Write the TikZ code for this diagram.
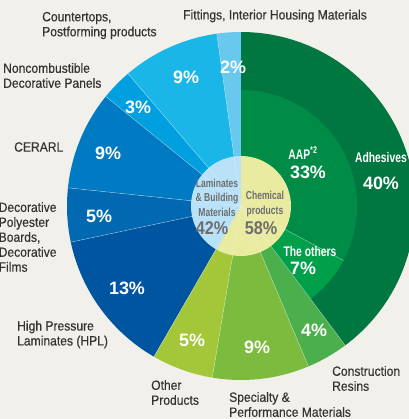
\documentclass[tikz,border=0pt]{standalone}
\usepackage{fontspec}
\setmainfont{Liberation Sans}
\newfontfamily\labelfont[FakeStretch=0.9,FakeBold=0.3]{Liberation Sans}
\newfontfamily\condfont[FakeStretch=0.74]{Liberation Sans}
\newfontfamily\innerfont[FakeStretch=0.88]{Liberation Sans}

\definecolor{bgcol}{HTML}{F1F0EA}
\definecolor{labelgray}{HTML}{333333}
\definecolor{innergray}{HTML}{6E6E70}
\definecolor{adhcol}{HTML}{007640}
\definecolor{aapcol}{HTML}{008C46}
\definecolor{othcol}{HTML}{00A04B}
\definecolor{concol}{HTML}{4BB04B}
\definecolor{specol}{HTML}{7CBB3E}
\definecolor{otpcol}{HTML}{A4C639}
\definecolor{hplcol}{HTML}{0055A0}
\definecolor{deccol}{HTML}{0069B2}
\definecolor{cercol}{HTML}{007BC3}
\definecolor{noncol}{HTML}{009FDF}
\definecolor{coucol}{HTML}{1AB6E8}
\definecolor{fitcol}{HTML}{69C8EE}
\definecolor{lamcol}{HTML}{B9E2F8}
\definecolor{checol}{HTML}{E8EBA0}

\begin{document}
\begin{tikzpicture}[
		x=1bp,y=1bp,
		outer label/.style={anchor=west,inner sep=0pt,align=left,text=labelgray,
			font=\labelfont\fontsize{13.5}{15}\selectfont},
		pct/.style={inner sep=0pt,text=white,font=\bfseries\fontsize{18}{20}\selectfont},
		seg name/.style={inner sep=0pt,text=white,align=center,
			font=\condfont\bfseries\fontsize{14}{16}\selectfont},
		inner name/.style={inner sep=0pt,text=innergray,align=center,
			font=\condfont\bfseries\fontsize{11.6}{14.5}\selectfont},
		inner pct/.style={inner sep=0pt,text=innergray,
			font=\innerfont\bfseries\fontsize{18.5}{20}\selectfont},
		sep line/.style={white,opacity=0.55,line width=0.4bp}
	]
	\useasboundingbox (0,0) rectangle (409,419);
	\fill[bgcol] (0,0) rectangle (409,419);

	\begin{scope}[shift={(241,213)}]
		% outer ring
		\foreach \a/\b/\c in {90/98/fitcol, 98/130.5/coucol, 130.5/141/noncol,
				141/174/cercol, 174/192/deccol, 192/240/hplcol, 240/260.5/otpcol,
				260.5/292.8/specol, 292.8/306.8/concol, 306.8/450/adhcol}
			\fill[\c] (0,0) -- (\a:174) arc[start angle=\a,end angle=\b,radius=174] -- cycle;
		% adhesives split
		\fill[aapcol] (0,0) -- (332:116) arc[start angle=332,end angle=450,radius=116] -- cycle;
		\fill[othcol] (0,0) -- (306.8:116) arc[start angle=306.8,end angle=332,radius=116] -- cycle;
		% separators
		\foreach \a in {98,130.5,141,174,192,240,260.5,292.8,306.8}
			\draw[sep line] (0,0) -- (\a:174);
		\draw[sep line] (0,0) -- (332:116);
		% centre
		\fill[lamcol] (0,0) -- (90:50) arc[start angle=90,end angle=241,radius=50] -- cycle;
		\fill[checol] (0,0) -- (241:50) arc[start angle=241,end angle=450,radius=50] -- cycle;
		\foreach \a in {98,130.5,141,174,192,240,260.5,292.8,306.8,332}
			\draw[sep line,opacity=0.35] (0,0) -- (\a:50);
	\end{scope}

	% outer labels
	\node[outer label,anchor=center] (fittings) at (275,403) {Fittings, Interior Housing Materials};
	\node[outer label] (countertops) at (42,393.5) {Countertops,\\Postforming products};
	\node[outer label] (noncomb) at (3,343.5) {Noncombustible\\Decorative Panels};
	\node[outer label] (cerarl) at (14,272) {CERARL};
	\node[outer label] (decorative) at (-1.5,182) {Decorative\\Polyester\\Boards,\\Decorative\\Films};
	\node[outer label] (hpl) at (17,84.5) {High Pressure\\Laminates (HPL)};
	\node[outer label] (otherprod) at (151,26.5) {Other\\Products};
	\node[outer label] (specialty) at (229,14.5) {Specialty \&\\Performance Materials};
	\node[outer label] (construction) at (332,40.5) {Construction\\Resins};

	% shares
	\node[pct] (fitpct) at (233,352) {2\%};
	\node[pct] (coupct) at (186,342) {9\%};
	\node[pct] (nonpct) at (138,312) {3\%};
	\node[pct] (cerpct) at (108,266) {9\%};
	\node[pct] (decpct) at (99,203) {5\%};
	\node[pct] (hplpct) at (127,131) {13\%};
	\node[pct] (otppct) at (192,79) {5\%};
	\node[pct] (spepct) at (257,72) {9\%};
	\node[pct] (conpct) at (314,89) {4\%};
	\node[seg name] (adhname) at (381,261) {Adhesives};
	\node[pct] (adhpct) at (381,236) {40\%};
	\node[seg name] (aapname) at (303,266) {AAP\textsuperscript{*2}};
	\node[pct] (aappct) at (308,247) {33\%};
	\node[seg name] (othname) at (310,167) {The others};
	\node[pct] (othpct) at (303,151) {7\%};

	% centre labels
	\node[inner name] (lamname) at (217,221.5) {Laminates\\\& Building\\Materials};
	\node[inner pct] (lampct) at (212,191) {42\%};
	\node[inner name] (chename) at (265,215) {Chemical\\products};
	\node[inner pct] (chepct) at (261,191) {58\%};
\end{tikzpicture}
\end{document}
